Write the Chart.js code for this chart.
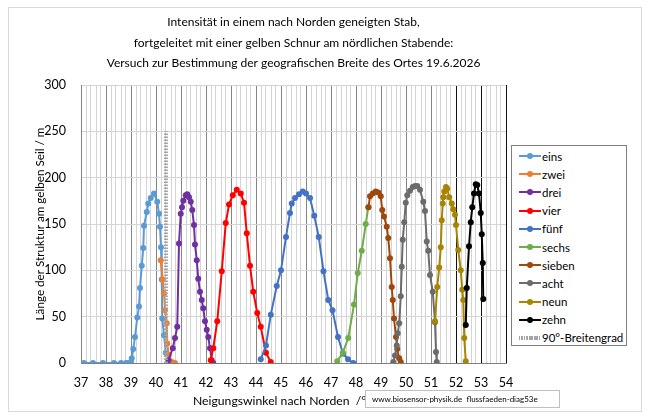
<!DOCTYPE html>
<html>
<head>
<meta charset="utf-8">
<script src="https://cdn.jsdelivr.net/npm/chart.js@4.4.1/dist/chart.umd.min.js"></script>
<style>
  body { margin: 0; background: #fff; font-family: Lato, sans-serif; }
  #wrap { position: relative; width: 649px; height: 419px; overflow: hidden; }
  #frame { position: absolute; left: 8px; top: 7px; width: 632px; height: 403px; border: 1px solid #d9d9d9; }
  canvas { position: absolute; left: 0; top: 0; }
  #legend { position: absolute; left: 511px; top: 145px; width: 116px; height: 201px; box-sizing: border-box;
            border: 1px solid #7f7f7f; background: #fff; font-size: 11.5px; color: #000; padding-top: 1px; }
  .item { height: 18.2px; display: flex; align-items: center; white-space: nowrap; }
  .sw { position: relative; width: 22px; height: 2px; margin-left: 7px; margin-right: 1px; }
  .sw i { position: absolute; left: 8px; top: -2px; width: 6px; height: 6px; border-radius: 50%; }
  .hatch { height: 4px; background: repeating-linear-gradient(90deg, #a5a5a5 0 1.5px, #fff 1.5px 2.5px); }
  #xtitle { position: absolute; left: 193px; top: 393px; font-size: 12.2px; white-space: pre; color: #000; }
  #credit { position: absolute; left: 365px; top: 390px; width: 195px; height: 18px; box-sizing: border-box;
            border: 1px solid #bfbfbf; font-size: 8px; line-height: 16px; padding-left: 6px; white-space: pre; }
</style>
</head>
<body>
<div id="wrap">
  <div id="frame"></div>
  <canvas id="chart" width="649" height="419"></canvas>
  <div id="legend"></div>
  <div id="xtitle">Neigungswinkel nach Norden  /°</div>
  <div id="credit">www.biosensor-physik.de  flussfaeden-diag53e</div>
</div>
<script>
// Messreihen: [Neigungswinkel in °, Länge in m]
const eins = [[37.12,0],[37.48,0],[37.88,0],[38.32,0],[38.6,0],[38.8,0],[38.88,0],[39.0,1],[39.03,5],[39.09,15],[39.16,28],
  [39.25,49],[39.32,61],[39.36,81],[39.43,105],[39.49,124],[39.52,148],[39.63,163],[39.69,172],[39.79,178],[39.92,183],
  [40.05,174],[40.12,161],[40.16,147],[40.2,125],[40.23,90],[40.25,48],[40.32,30],[40.39,11]];
const zwei = [[40.19,111],[40.27,90],[40.32,75],[40.36,57],[40.43,43],[40.45,21],[40.5,9],[40.63,1],[40.76,0]];
const drei = [[40.5,3],[40.67,16],[40.76,27],[40.85,39],[40.92,129],[40.99,161],[41.04,168],[41.09,175],[41.19,181],
  [41.25,182],[41.32,179],[41.39,174],[41.45,165],[41.52,149],[41.56,128],[41.63,111],[41.69,91],[41.76,77],[41.83,68],
  [41.89,59],[41.96,45],[42.03,36],[42.09,28],[42.16,16],[42.23,3],[42.29,0]];
const vier = [[42.19,3],[42.29,16],[42.45,45],[42.63,99],[42.79,151],[42.92,171],[43.07,181],[43.23,187],[43.39,183],
  [43.52,173],[43.63,140],[43.76,105],[43.89,77],[44.05,54],[44.19,39],[44.4,11],[44.59,1]];
const fuenf = [[44.19,4],[44.4,19],[44.59,52],[44.83,83],[45.0,100],[45.2,136],[45.36,162],[45.43,172],[45.56,178],
  [45.72,182],[45.87,185],[46.0,183],[46.16,178],[46.33,159],[46.51,136],[46.7,99],[46.89,68],[47.06,57],[47.28,28],
  [47.48,10],[47.68,4],[47.89,0]];
const sechs = [[47.25,2],[47.47,11],[47.69,27],[47.92,63],[48.07,97],[48.23,121],[48.39,150],[48.49,168]];
const sieben = [[48.5,168],[48.56,180],[48.67,183],[48.79,185],[48.89,184],[48.99,180],[49.05,165],[49.12,158],[49.23,147],
  [49.29,135],[49.36,113],[49.43,82],[49.47,68],[49.52,48],[49.6,28],[49.65,15],[49.73,5],[49.79,1]];
const acht = [[49.49,1],[49.56,8],[49.63,19],[49.67,32],[49.73,43],[49.79,72],[49.83,104],[49.87,133],[49.93,152],
  [49.99,173],[50.05,181],[50.16,186],[50.27,190],[50.36,191],[50.45,191],[50.56,187],[50.69,174],[50.76,164],[50.83,131],
  [50.89,121],[50.96,95],[51.07,77],[51.16,44],[51.2,12],[51.23,1]];
const neun = [[51.16,45],[51.25,82],[51.33,103],[51.39,125],[51.43,154],[51.47,172],[51.49,179],[51.53,185],[51.6,190],
  [51.65,188],[51.73,179],[51.83,172],[51.89,166],[51.96,160],[52.0,149],[52.09,122],[52.19,100],[52.25,79],[52.29,68],
  [52.33,27],[52.39,2]];
const zehn = [[52.39,41],[52.43,81],[52.52,126],[52.59,152],[52.65,168],[52.72,183],[52.79,193],[52.85,192],[52.92,183],
  [52.99,162],[53.03,139],[53.07,108],[53.09,69]];
const breitengrad = [[40.4,0],[40.4,250]];

const seriesNames = ['eins','zwei','drei','vier','fünf','sechs','sieben','acht','neun','zehn','90°-Breitengrad'];
const seriesData = [eins, zwei, drei, vier, fuenf, sechs, sieben, acht, neun, zehn, breitengrad];
const seriesColors = ['#5B9BD5','#ED7D31','#7030A0','#FF0000','#4472C4','#70AD47','#9E480E','#6b6b6b','#A88400','#000000','#A5A5A5'];

const titleLines = [
  'Intensität in einem nach Norden geneigten Stab,',
  'fortgeleitet mit einer gelben Schnur am nördlichen Stabende:',
  'Versuch zur Bestimmung der geografischen Breite des Ortes 19.6.2026'
];
const yTitle = 'Länge der Struktur am gelben Seil / m';
const xMin = 37, xMax = 54, xStep = 0.2;
const yMin = 0, yMax = 300, yStep = 50;

Chart.defaults.font.family = 'Lato, sans-serif';
Chart.defaults.color = '#000';

function isMajor(v) {
  return Math.abs(v - Math.round(v)) < 1e-6;
}

const datasets = seriesData.map((d, i) => {
  const last = i === seriesData.length - 1;
  return {
    label: seriesNames[i],
    data: d.map(p => ({ x: p[0], y: p[1] })),
    showLine: true,
    borderColor: seriesColors[i],
    backgroundColor: seriesColors[i],
    borderWidth: last ? 4 : 2,
    borderDash: last ? [1.5, 1.5] : [],
    pointRadius: last ? 0 : 3,
    pointBorderWidth: 0,
    pointBackgroundColor: seriesColors[i],
    order: seriesData.length - i,
  };
});

new Chart(document.getElementById('chart').getContext('2d'), {
  type: 'scatter',
  data: { datasets: datasets },
  options: {
    responsive: false,
    animation: false,
    layout: { padding: { left: 0, right: 143, top: 0, bottom: 0 } },
    scales: {
      x: {
        type: 'linear',
        min: xMin,
        max: xMax,
        afterFit: (scale) => { scale.height = 56; },
        border: { color: '#7f7f7f' },
        grid: {
          drawTicks: false,
          color: (ctx) => {
            const v = ctx.tick ? ctx.tick.value : 0;
            if (!isMajor(v)) return '#d4d4d4';
            return v >= 52 ? '#111' : '#858585';
          },
        },
        ticks: {
          stepSize: xStep,
          autoSkip: false,
          maxRotation: 0,
          padding: 12,
          font: { size: 12.5 },
          callback: (v) => isMajor(v) ? String(Math.round(v)) : '',
        },
      },
      y: {
        min: yMin,
        max: yMax,
        afterFit: (scale) => { scale.width = 81; },
        border: { color: '#858585' },
        grid: { drawTicks: false, color: '#d4d4d4' },
        ticks: { stepSize: yStep, padding: 15, font: { size: 12.5 } },
        title: { display: true, text: yTitle, font: { size: 11.7 }, padding: { top: 33, bottom: 0 } },
      },
    },
    plugins: {
      legend: { display: false },
      tooltip: { enabled: false },
      title: {
        display: true,
        fullSize: false,
        text: titleLines,
        color: '#000',
        font: { size: 12, weight: 'normal', lineHeight: 20.5 / 12 },
        padding: { top: 12, bottom: 11.5 },
      },
    },
  },
});

const legend = document.getElementById('legend');
seriesNames.forEach((name, i) => {
  const row = document.createElement('div');
  row.className = 'item';
  const sw = document.createElement('span');
  if (i === seriesNames.length - 1) {
    sw.className = 'sw hatch';
  } else {
    sw.className = 'sw';
    sw.style.background = seriesColors[i];
    const dot = document.createElement('i');
    dot.style.background = seriesColors[i];
    sw.appendChild(dot);
  }
  row.appendChild(sw);
  row.appendChild(document.createTextNode(name));
  legend.appendChild(row);
});
</script>
</body>
</html>
